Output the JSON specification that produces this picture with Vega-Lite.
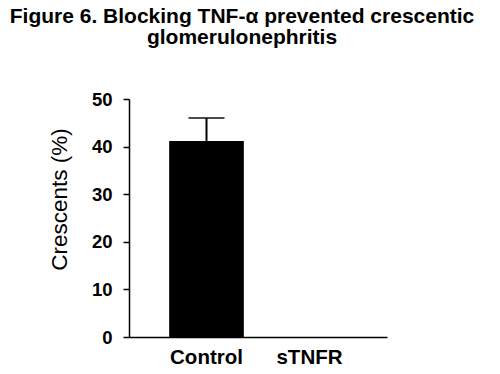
{
  "$schema": "https://vega.github.io/schema/vega-lite/v6.json",
  "autosize": "none",
  "width": 258,
  "height": 238,
  "padding": {"left": 129, "top": 99, "right": 113, "bottom": 37},
  "background": "white",
  "config": {
    "view": {"stroke": null},
    "font": "Liberation Sans",
    "axis": {"grid": false, "domainColor": "black", "tickColor": "black", "labelColor": "black", "titleColor": "black", "domainWidth": 1.5, "tickWidth": 1.5}
  },
  "title": {
    "text": ["Figure 6. Blocking TNF-\u03b1 prevented crescentic", "glomerulonephritis"],
    "font": "Liberation Sans",
    "fontSize": 21,
    "fontWeight": "bold",
    "color": "black",
    "anchor": "middle",
    "frame": "group",
    "dx": -16,
    "lineHeight": 21,
    "offset": 42
  },
  "data": {
    "values": [
      {"group": "Control", "crescents": 41.2, "upper": 46.0},
      {"group": "sTNFR", "crescents": 0, "upper": null}
    ]
  },
  "encoding": {
    "x": {
      "field": "group",
      "type": "nominal",
      "sort": null,
      "scale": {"paddingInner": 0.275, "paddingOuter": 0.39},
      "axis": {"title": null, "labelAngle": 0, "ticks": false, "labelFontSize": 20.5, "labelFontWeight": "bold", "labelPadding": 10}
    }
  },
  "layer": [
    {
      "mark": {"type": "bar", "color": "black"},
      "encoding": {
        "y": {
          "field": "crescents",
          "type": "quantitative",
          "scale": {"domain": [0, 50], "nice": false},
          "axis": {"title": "Crescents (%)", "values": [0, 10, 20, 30, 40, 50], "tickSize": 6, "labelFontSize": 18.5, "labelFontWeight": "bold", "labelPadding": 11, "titleFontSize": 22.5, "titleFontWeight": "normal", "titlePadding": 20, "titleY": 100, "titleAlign": "center"}
        }
      }
    },
    {
      "mark": {"type": "rule", "color": "black", "strokeWidth": 2},
      "encoding": {
        "y": {"field": "crescents", "type": "quantitative"},
        "y2": {"field": "upper"}
      }
    },
    {
      "mark": {"type": "tick", "color": "black", "thickness": 2, "size": 36},
      "encoding": {
        "y": {"field": "upper", "type": "quantitative"}
      }
    }
  ]
}
